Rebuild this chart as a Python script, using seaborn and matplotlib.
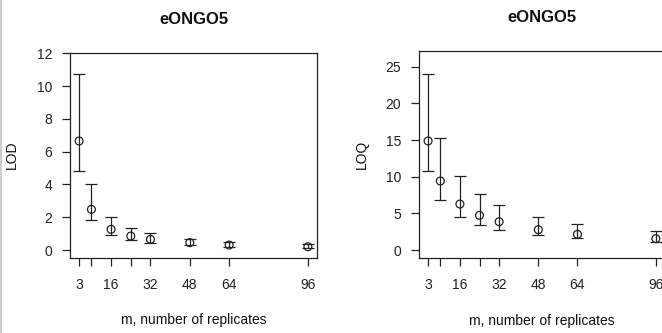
import numpy as np
import pandas as pd
import seaborn as sns
import matplotlib.pyplot as plt
from matplotlib.lines import Line2D

# replicates m and the two estimates with their intervals
m = [3, 8, 16, 24, 32, 48, 64, 96]
m_labels = ['3', '', '16', '', '32', '48', '64', '96']

lod = [6.65, 2.48, 1.26, 0.85, 0.65, 0.45, 0.30, 0.20]
lod_lower = [4.80, 1.81, 0.90, 0.61, 0.45, 0.30, 0.20, 0.10]
lod_upper = [10.74, 4.05, 2.00, 1.32, 1.02, 0.67, 0.47, 0.35]

loq = [14.87, 9.41, 6.27, 4.73, 3.86, 2.77, 2.14, 1.55]
loq_lower = [10.73, 6.82, 4.50, 3.45, 2.77, 2.00, 1.59, 1.09]
loq_upper = [24.00, 15.28, 10.10, 7.64, 6.18, 4.50, 3.55, 2.55]

title = 'eONGO5'
xlabel = 'm, number of replicates'

sns.set_theme(style='ticks')
ink = '#222222'
plt.rcParams.update({
    'font.family': ['Liberation Sans', 'DejaVu Sans'],
    'axes.edgecolor': ink,
    'axes.linewidth': 0.9,
    'xtick.color': ink,
    'ytick.color': ink,
    'xtick.major.size': 5.8,
    'ytick.major.size': 5.8,
    'xtick.major.width': 0.9,
    'ytick.major.width': 0.9,
    'xtick.labelsize': 10,
    'ytick.labelsize': 10,
})

fig = plt.figure(figsize=(6.62, 3.33), dpi=100)
ax1 = fig.add_axes([0.1057, 0.2261, 0.3732, 0.6157])
ax2 = fig.add_axes([0.6329, 0.2261, 0.3716, 0.6207])


def panel(ax, est, lo, hi, ylabel, ylim, yticks):
    df = pd.DataFrame({'m': m, 'est': est, 'lo': lo, 'hi': hi})
    ax.errorbar(df['m'], df['est'],
                yerr=[df['est'] - df['lo'], df['hi'] - df['est']],
                fmt='none', ecolor=ink, elinewidth=0.9, capsize=4,
                capthick=0.9)
    sns.scatterplot(data=df, x='m', y='est', ax=ax, marker='o', s=32,
                    facecolor='none', edgecolor=ink, linewidth=0.9,
                    zorder=3)
    ax.set_xlim(-0.72, 99.72)
    ax.set_ylim(*ylim)
    ax.set_xticks(m)
    ax.set_xticklabels(m_labels)
    ax.set_yticks(yticks)
    ax.tick_params(axis='x', pad=9)
    ax.tick_params(axis='y', pad=7)
    for s in ax.spines.values():
        s.set_visible(True)
    ax.set_title(title, fontsize=12, fontweight='bold', pad=21, color='#111111')
    ax.set_xlabel(xlabel, fontsize=10, color='#111111')
    ax.set_ylabel(ylabel, fontsize=10, color='#111111')
    ax.xaxis.set_label_coords(0.5, -0.27)
    ax.yaxis.set_label_coords(-0.205, 0.5)


panel(ax1, lod, lod_lower, lod_upper, 'LOD', (-0.47, 12.04), range(0, 13, 2))
panel(ax2, loq, loq_lower, loq_upper, 'LOQ', (-1.05, 27.14), range(0, 26, 5))

fig.add_artist(Line2D([0.0015, 0.0015], [0, 1], color='#cccccc', lw=1.5,
                      transform=fig.transFigure))

fig.savefig('out.png', dpi=100)
